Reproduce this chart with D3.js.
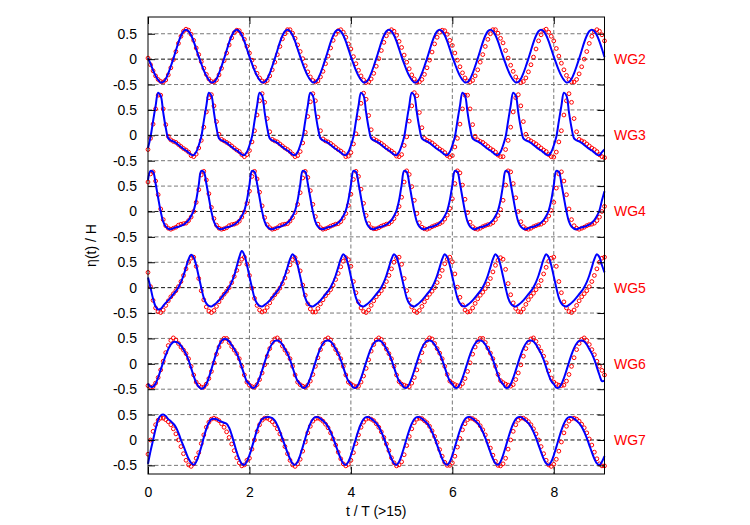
<!DOCTYPE html>
<html>
<head>
<meta charset="utf-8">
<script src="https://cdn.jsdelivr.net/npm/d3@7"></script>
<style>
  body { margin: 0; background: #fff; }
  text { font-family: "Liberation Sans", Arial, sans-serif; }
</style>
</head>
<body>
<svg id="chart" width="750" height="525"></svg>
<script>
// sampling step of both series, in t / T
const dt = 0.05;
const xTicks = [0, 2, 4, 6, 8];
const yTicks = [-0.5, 0, 0.5];
const gauges = ['WG2', 'WG3', 'WG4', 'WG5', 'WG6', 'WG7'];

// one row per wave period (20 samples), plus the value at t = 9
const wg2Model = [
  0.02, -0.09, -0.22, -0.33, -0.41, -0.46, -0.45, -0.39, -0.28, -0.14, 0.01, 0.17, 0.33, 0.46, 0.55, 0.58, 0.55, 0.47, 0.35, 0.20,
  0.05, -0.09, -0.22, -0.33, -0.41, -0.46, -0.45, -0.39, -0.28, -0.14, 0.01, 0.17, 0.33, 0.46, 0.55, 0.58, 0.55, 0.47, 0.35, 0.20,
  0.05, -0.09, -0.22, -0.33, -0.41, -0.46, -0.45, -0.39, -0.28, -0.14, 0.01, 0.17, 0.33, 0.46, 0.55, 0.58, 0.55, 0.47, 0.35, 0.20,
  0.05, -0.09, -0.22, -0.33, -0.41, -0.46, -0.45, -0.39, -0.28, -0.14, 0.01, 0.17, 0.33, 0.46, 0.55, 0.58, 0.55, 0.47, 0.35, 0.20,
  0.05, -0.09, -0.22, -0.33, -0.41, -0.46, -0.45, -0.39, -0.28, -0.14, 0.01, 0.17, 0.33, 0.46, 0.55, 0.58, 0.55, 0.47, 0.35, 0.20,
  0.05, -0.09, -0.22, -0.33, -0.41, -0.46, -0.45, -0.39, -0.28, -0.14, 0.01, 0.17, 0.33, 0.46, 0.55, 0.58, 0.55, 0.47, 0.35, 0.20,
  0.05, -0.09, -0.22, -0.33, -0.41, -0.46, -0.45, -0.39, -0.28, -0.14, 0.01, 0.17, 0.33, 0.46, 0.55, 0.58, 0.55, 0.47, 0.35, 0.20,
  0.05, -0.09, -0.22, -0.33, -0.41, -0.46, -0.45, -0.39, -0.28, -0.14, 0.01, 0.17, 0.33, 0.46, 0.55, 0.58, 0.55, 0.47, 0.35, 0.20,
  0.05, -0.09, -0.22, -0.33, -0.41, -0.46, -0.45, -0.39, -0.28, -0.14, 0.01, 0.17, 0.33, 0.46, 0.55, 0.58, 0.55, 0.47, 0.35, 0.20,
  0.04
];
const wg2Exp = [
  0.02, -0.11, -0.23, -0.33, -0.40, -0.44, -0.45, -0.41, -0.31, -0.17, -0.01, 0.15, 0.31, 0.45, 0.55, 0.59, 0.57, 0.49, 0.37, 0.22,
  0.09, -0.05, -0.18, -0.30, -0.39, -0.44, -0.45, -0.41, -0.31, -0.18, -0.03, 0.12, 0.28, 0.42, 0.52, 0.57, 0.56, 0.49, 0.39, 0.25,
  0.12, -0.02, -0.16, -0.28, -0.37, -0.43, -0.45, -0.42, -0.33, -0.21, -0.06, 0.09, 0.25, 0.40, 0.50, 0.58, 0.58, 0.51, 0.41, 0.28,
  0.15, 0.01, -0.13, -0.25, -0.35, -0.42, -0.45, -0.43, -0.35, -0.24, -0.09, 0.06, 0.22, 0.37, 0.49, 0.56, 0.58, 0.53, 0.43, 0.30,
  0.20, 0.05, -0.09, -0.22, -0.33, -0.41, -0.46, -0.45, -0.39, -0.28, -0.14, 0.01, 0.17, 0.33, 0.46, 0.55, 0.58, 0.55, 0.47, 0.35,
  0.23, 0.08, -0.06, -0.19, -0.31, -0.39, -0.45, -0.45, -0.40, -0.30, -0.17, -0.02, 0.14, 0.30, 0.43, 0.53, 0.57, 0.56, 0.49, 0.37,
  0.27, 0.12, -0.02, -0.15, -0.27, -0.37, -0.43, -0.45, -0.42, -0.33, -0.21, -0.06, 0.09, 0.25, 0.39, 0.50, 0.58, 0.58, 0.51, 0.41,
  0.32, 0.17, 0.02, -0.12, -0.24, -0.35, -0.42, -0.46, -0.44, -0.37, -0.25, -0.11, 0.04, 0.20, 0.36, 0.48, 0.56, 0.59, 0.53, 0.45,
  0.36, 0.21, 0.06, -0.08, -0.21, -0.32, -0.40, -0.45, -0.45, -0.40, -0.29, -0.15, 0.00, 0.15, 0.31, 0.45, 0.54, 0.58, 0.55, 0.48,
  0.36
];

const wg3Model = [
  -0.25, -0.03, 0.28, 0.58, 0.84, 0.78, 0.45, 0.15, -0.06, -0.10, -0.12, -0.15, -0.19, -0.23, -0.27, -0.30, -0.34, -0.38, -0.39, -0.33,
  -0.20, -0.03, 0.28, 0.58, 0.84, 0.78, 0.45, 0.15, -0.06, -0.10, -0.12, -0.15, -0.19, -0.23, -0.27, -0.30, -0.34, -0.38, -0.39, -0.33,
  -0.20, -0.03, 0.28, 0.58, 0.84, 0.78, 0.45, 0.15, -0.06, -0.10, -0.12, -0.15, -0.19, -0.23, -0.27, -0.30, -0.34, -0.38, -0.39, -0.33,
  -0.20, -0.03, 0.28, 0.58, 0.84, 0.78, 0.45, 0.15, -0.06, -0.10, -0.12, -0.15, -0.19, -0.23, -0.27, -0.30, -0.34, -0.38, -0.39, -0.33,
  -0.20, -0.03, 0.28, 0.58, 0.84, 0.78, 0.45, 0.15, -0.06, -0.10, -0.12, -0.15, -0.19, -0.23, -0.27, -0.30, -0.34, -0.38, -0.39, -0.33,
  -0.20, -0.03, 0.28, 0.58, 0.84, 0.78, 0.45, 0.15, -0.06, -0.10, -0.12, -0.15, -0.19, -0.23, -0.27, -0.30, -0.34, -0.38, -0.39, -0.33,
  -0.20, -0.03, 0.28, 0.58, 0.84, 0.78, 0.45, 0.15, -0.06, -0.10, -0.12, -0.15, -0.19, -0.23, -0.27, -0.30, -0.34, -0.38, -0.39, -0.33,
  -0.20, -0.03, 0.28, 0.58, 0.84, 0.78, 0.45, 0.15, -0.06, -0.10, -0.12, -0.15, -0.19, -0.23, -0.27, -0.30, -0.34, -0.38, -0.39, -0.33,
  -0.20, -0.03, 0.28, 0.58, 0.84, 0.78, 0.45, 0.15, -0.06, -0.10, -0.12, -0.15, -0.19, -0.23, -0.27, -0.30, -0.34, -0.38, -0.39, -0.33,
  -0.28
];
const wg3Exp = [
  -0.28, -0.06, 0.22, 0.52, 0.79, 0.79, 0.52, 0.21, -0.02, -0.09, -0.12, -0.14, -0.18, -0.22, -0.26, -0.29, -0.33, -0.40, -0.42, -0.37,
  -0.25, -0.10, 0.16, 0.46, 0.74, 0.80, 0.58, 0.27, 0.02, -0.08, -0.11, -0.14, -0.17, -0.21, -0.25, -0.29, -0.32, -0.38, -0.42, -0.38,
  -0.30, -0.13, 0.09, 0.40, 0.68, 0.82, 0.65, 0.33, 0.07, -0.08, -0.11, -0.13, -0.17, -0.21, -0.25, -0.28, -0.32, -0.37, -0.42, -0.40,
  -0.32, -0.15, 0.06, 0.37, 0.66, 0.82, 0.68, 0.36, 0.09, -0.07, -0.11, -0.13, -0.16, -0.20, -0.24, -0.28, -0.31, -0.35, -0.42, -0.41,
  -0.34, -0.17, 0.03, 0.34, 0.63, 0.83, 0.71, 0.39, 0.11, -0.07, -0.10, -0.13, -0.16, -0.20, -0.24, -0.28, -0.31, -0.35, -0.41, -0.42,
  -0.38, -0.20, -0.03, 0.28, 0.58, 0.84, 0.78, 0.45, 0.15, -0.06, -0.10, -0.12, -0.15, -0.19, -0.23, -0.27, -0.30, -0.34, -0.40, -0.43,
  -0.40, -0.23, -0.06, 0.22, 0.52, 0.79, 0.79, 0.52, 0.21, -0.02, -0.09, -0.12, -0.14, -0.18, -0.22, -0.26, -0.29, -0.33, -0.39, -0.42,
  -0.42, -0.28, -0.10, 0.16, 0.46, 0.74, 0.80, 0.58, 0.27, 0.02, -0.08, -0.11, -0.14, -0.17, -0.21, -0.25, -0.29, -0.32, -0.38, -0.42,
  -0.43, -0.33, -0.13, 0.09, 0.40, 0.68, 0.82, 0.65, 0.33, 0.07, -0.08, -0.11, -0.13, -0.17, -0.21, -0.25, -0.28, -0.32, -0.38, -0.42,
  -0.44
];

const wg4Model = [
  0.62, 0.80, 0.78, 0.55, 0.27, 0.00, -0.20, -0.30, -0.34, -0.35, -0.33, -0.31, -0.30, -0.28, -0.26, -0.22, -0.17, -0.09, 0.02, 0.22,
  0.52, 0.80, 0.78, 0.55, 0.27, 0.00, -0.20, -0.30, -0.34, -0.35, -0.33, -0.31, -0.30, -0.28, -0.26, -0.22, -0.17, -0.09, 0.02, 0.22,
  0.52, 0.80, 0.78, 0.55, 0.27, 0.00, -0.20, -0.30, -0.34, -0.35, -0.33, -0.31, -0.30, -0.28, -0.26, -0.22, -0.17, -0.09, 0.02, 0.22,
  0.52, 0.80, 0.78, 0.55, 0.27, 0.00, -0.20, -0.30, -0.34, -0.35, -0.33, -0.31, -0.30, -0.28, -0.26, -0.22, -0.17, -0.09, 0.02, 0.22,
  0.52, 0.80, 0.78, 0.55, 0.27, 0.00, -0.20, -0.30, -0.34, -0.35, -0.33, -0.31, -0.30, -0.28, -0.26, -0.22, -0.17, -0.09, 0.02, 0.22,
  0.52, 0.80, 0.78, 0.55, 0.27, 0.00, -0.20, -0.30, -0.34, -0.35, -0.33, -0.31, -0.30, -0.28, -0.26, -0.22, -0.17, -0.09, 0.02, 0.22,
  0.52, 0.80, 0.78, 0.55, 0.27, 0.00, -0.20, -0.30, -0.34, -0.35, -0.33, -0.31, -0.30, -0.28, -0.26, -0.22, -0.17, -0.09, 0.02, 0.22,
  0.52, 0.80, 0.78, 0.55, 0.27, 0.00, -0.20, -0.30, -0.34, -0.35, -0.33, -0.31, -0.30, -0.28, -0.26, -0.22, -0.17, -0.09, 0.02, 0.22,
  0.52, 0.80, 0.78, 0.55, 0.27, 0.00, -0.20, -0.30, -0.34, -0.35, -0.33, -0.31, -0.30, -0.28, -0.26, -0.22, -0.17, -0.09, 0.02, 0.22,
  0.40
];
const wg4Exp = [
  0.58, 0.74, 0.78, 0.60, 0.33, 0.05, -0.16, -0.28, -0.33, -0.35, -0.33, -0.31, -0.27, -0.25, -0.24, -0.23, -0.18, -0.11, 0.00, 0.18,
  0.43, 0.72, 0.79, 0.62, 0.35, 0.08, -0.14, -0.27, -0.33, -0.35, -0.34, -0.32, -0.28, -0.26, -0.25, -0.23, -0.19, -0.11, -0.01, 0.16,
  0.40, 0.69, 0.79, 0.64, 0.38, 0.11, -0.12, -0.26, -0.32, -0.35, -0.34, -0.32, -0.28, -0.26, -0.25, -0.24, -0.19, -0.12, -0.02, 0.14,
  0.37, 0.66, 0.79, 0.67, 0.41, 0.14, -0.10, -0.25, -0.32, -0.35, -0.34, -0.32, -0.29, -0.27, -0.25, -0.24, -0.20, -0.13, -0.04, 0.12,
  0.34, 0.63, 0.79, 0.69, 0.44, 0.16, -0.08, -0.24, -0.32, -0.34, -0.34, -0.32, -0.29, -0.27, -0.25, -0.24, -0.20, -0.14, -0.05, 0.10,
  0.28, 0.58, 0.80, 0.73, 0.49, 0.22, -0.04, -0.22, -0.31, -0.34, -0.35, -0.33, -0.30, -0.28, -0.26, -0.24, -0.21, -0.15, -0.07, 0.06,
  0.25, 0.55, 0.80, 0.76, 0.52, 0.24, -0.02, -0.21, -0.30, -0.34, -0.35, -0.33, -0.30, -0.28, -0.26, -0.25, -0.22, -0.16, -0.08, 0.04,
  0.22, 0.52, 0.80, 0.78, 0.55, 0.27, 0.00, -0.20, -0.30, -0.34, -0.35, -0.33, -0.30, -0.28, -0.26, -0.25, -0.22, -0.17, -0.09, 0.02,
  0.18, 0.46, 0.74, 0.78, 0.60, 0.33, 0.05, -0.16, -0.28, -0.33, -0.35, -0.33, -0.31, -0.28, -0.26, -0.25, -0.23, -0.18, -0.11, 0.00,
  0.10
];

const wg5Model = [
  0.20, 0.00, -0.22, -0.37, -0.43, -0.42, -0.36, -0.30, -0.25, -0.19, -0.13, -0.07, 0.01, 0.11, 0.24, 0.40, 0.56, 0.65, 0.60, 0.44,
  0.22, 0.00, -0.20, -0.31, -0.36, -0.37, -0.34, -0.30, -0.25, -0.19, -0.13, -0.07, 0.01, 0.11, 0.24, 0.42, 0.60, 0.72, 0.64, 0.45,
  0.22, 0.00, -0.20, -0.31, -0.36, -0.37, -0.34, -0.30, -0.25, -0.19, -0.13, -0.07, 0.01, 0.11, 0.24, 0.40, 0.56, 0.66, 0.60, 0.44,
  0.22, 0.00, -0.20, -0.31, -0.36, -0.37, -0.34, -0.30, -0.25, -0.19, -0.13, -0.07, 0.01, 0.11, 0.24, 0.40, 0.56, 0.66, 0.60, 0.44,
  0.22, 0.00, -0.20, -0.31, -0.36, -0.37, -0.34, -0.30, -0.25, -0.19, -0.13, -0.07, 0.01, 0.11, 0.24, 0.40, 0.56, 0.66, 0.60, 0.44,
  0.22, 0.00, -0.20, -0.31, -0.36, -0.37, -0.34, -0.30, -0.25, -0.19, -0.13, -0.07, 0.01, 0.11, 0.24, 0.40, 0.56, 0.66, 0.60, 0.44,
  0.22, 0.00, -0.20, -0.31, -0.36, -0.37, -0.34, -0.30, -0.25, -0.19, -0.13, -0.07, 0.01, 0.11, 0.24, 0.40, 0.56, 0.66, 0.60, 0.44,
  0.22, 0.00, -0.20, -0.31, -0.36, -0.37, -0.34, -0.30, -0.25, -0.19, -0.13, -0.07, 0.01, 0.11, 0.24, 0.40, 0.56, 0.66, 0.60, 0.44,
  0.22, 0.00, -0.20, -0.31, -0.36, -0.37, -0.34, -0.30, -0.25, -0.19, -0.13, -0.07, 0.01, 0.11, 0.24, 0.40, 0.56, 0.66, 0.60, 0.44,
  0.30
];
const wg5Exp = [
  0.30, 0.02, -0.25, -0.40, -0.47, -0.49, -0.44, -0.35, -0.26, -0.18, -0.12, -0.06, 0.02, 0.12, 0.24, 0.37, 0.50, 0.58, 0.60, 0.42,
  0.18, -0.06, -0.24, -0.38, -0.46, -0.49, -0.45, -0.37, -0.28, -0.20, -0.13, -0.07, 0.00, 0.10, 0.22, 0.34, 0.47, 0.56, 0.60, 0.46,
  0.24, -0.01, -0.21, -0.35, -0.44, -0.48, -0.46, -0.39, -0.30, -0.21, -0.14, -0.08, -0.01, 0.08, 0.19, 0.32, 0.45, 0.55, 0.59, 0.49,
  0.33, 0.05, -0.15, -0.32, -0.42, -0.48, -0.48, -0.41, -0.32, -0.24, -0.16, -0.10, -0.04, 0.05, 0.16, 0.28, 0.41, 0.52, 0.59, 0.55,
  0.42, 0.12, -0.10, -0.28, -0.40, -0.47, -0.49, -0.44, -0.35, -0.26, -0.18, -0.12, -0.06, 0.02, 0.12, 0.24, 0.37, 0.50, 0.58, 0.60,
  0.46, 0.18, -0.06, -0.24, -0.38, -0.46, -0.49, -0.45, -0.37, -0.28, -0.20, -0.13, -0.07, 0.00, 0.10, 0.22, 0.34, 0.47, 0.56, 0.60,
  0.51, 0.27, 0.01, -0.19, -0.34, -0.44, -0.48, -0.47, -0.40, -0.31, -0.22, -0.15, -0.09, -0.02, 0.07, 0.18, 0.31, 0.44, 0.54, 0.59,
  0.56, 0.36, 0.08, -0.14, -0.30, -0.41, -0.47, -0.48, -0.42, -0.33, -0.24, -0.17, -0.11, -0.04, 0.04, 0.14, 0.27, 0.40, 0.52, 0.58,
  0.60, 0.42, 0.12, -0.10, -0.28, -0.40, -0.47, -0.49, -0.44, -0.35, -0.26, -0.18, -0.12, -0.06, 0.02, 0.12, 0.24, 0.37, 0.50, 0.58,
  0.60
];

const wg6Model = [
  -0.39, -0.45, -0.45, -0.39, -0.27, -0.12, 0.03, 0.17, 0.29, 0.38, 0.43, 0.43, 0.41, 0.36, 0.28, 0.19, 0.07, -0.08, -0.24, -0.37,
  -0.45, -0.49, -0.47, -0.40, -0.27, -0.11, 0.06, 0.22, 0.36, 0.45, 0.49, 0.48, 0.44, 0.37, 0.29, 0.20, 0.08, -0.07, -0.22, -0.35,
  -0.40, -0.47, -0.47, -0.40, -0.28, -0.13, 0.03, 0.18, 0.31, 0.40, 0.45, 0.46, 0.44, 0.38, 0.29, 0.20, 0.08, -0.07, -0.22, -0.34,
  -0.40, -0.47, -0.47, -0.40, -0.28, -0.13, 0.03, 0.18, 0.31, 0.40, 0.45, 0.46, 0.44, 0.38, 0.29, 0.20, 0.08, -0.07, -0.22, -0.34,
  -0.40, -0.47, -0.47, -0.40, -0.28, -0.13, 0.03, 0.18, 0.31, 0.40, 0.45, 0.46, 0.44, 0.38, 0.29, 0.20, 0.08, -0.07, -0.22, -0.34,
  -0.40, -0.47, -0.47, -0.40, -0.28, -0.13, 0.03, 0.18, 0.31, 0.40, 0.45, 0.46, 0.44, 0.38, 0.29, 0.20, 0.08, -0.07, -0.22, -0.34,
  -0.40, -0.47, -0.47, -0.40, -0.28, -0.13, 0.03, 0.18, 0.31, 0.40, 0.45, 0.46, 0.44, 0.38, 0.29, 0.20, 0.08, -0.07, -0.22, -0.34,
  -0.40, -0.47, -0.47, -0.40, -0.28, -0.13, 0.03, 0.18, 0.31, 0.40, 0.45, 0.46, 0.44, 0.38, 0.29, 0.20, 0.08, -0.07, -0.22, -0.34,
  -0.40, -0.47, -0.47, -0.40, -0.28, -0.13, 0.03, 0.18, 0.31, 0.40, 0.45, 0.46, 0.44, 0.38, 0.29, 0.20, 0.08, -0.07, -0.22, -0.34,
  -0.33
];
const wg6Exp = [
  -0.43, -0.46, -0.45, -0.38, -0.27, -0.12, 0.05, 0.22, 0.36, 0.46, 0.51, 0.47, 0.40, 0.33, 0.27, 0.20, 0.10, -0.05, -0.22, -0.36,
  -0.42, -0.46, -0.46, -0.40, -0.29, -0.15, 0.02, 0.19, 0.33, 0.44, 0.50, 0.50, 0.42, 0.34, 0.27, 0.20, 0.10, -0.05, -0.22, -0.36,
  -0.42, -0.45, -0.46, -0.41, -0.31, -0.18, -0.02, 0.15, 0.30, 0.42, 0.49, 0.51, 0.45, 0.35, 0.27, 0.20, 0.10, -0.05, -0.22, -0.36,
  -0.41, -0.44, -0.46, -0.42, -0.34, -0.21, -0.05, 0.12, 0.28, 0.40, 0.48, 0.51, 0.47, 0.37, 0.28, 0.20, 0.10, -0.05, -0.22, -0.36,
  -0.40, -0.43, -0.45, -0.44, -0.36, -0.24, -0.09, 0.08, 0.25, 0.38, 0.47, 0.51, 0.48, 0.39, 0.29, 0.20, 0.10, -0.05, -0.22, -0.35,
  -0.40, -0.42, -0.44, -0.45, -0.38, -0.27, -0.12, 0.05, 0.22, 0.36, 0.46, 0.51, 0.49, 0.40, 0.30, 0.21, 0.10, -0.05, -0.21, -0.34,
  -0.38, -0.41, -0.43, -0.44, -0.39, -0.29, -0.15, 0.02, 0.19, 0.33, 0.44, 0.50, 0.50, 0.42, 0.31, 0.21, 0.10, -0.05, -0.21, -0.33,
  -0.37, -0.40, -0.42, -0.44, -0.41, -0.31, -0.18, -0.02, 0.15, 0.30, 0.42, 0.49, 0.51, 0.44, 0.34, 0.25, 0.15, 0.02, -0.14, -0.28,
  -0.36, -0.40, -0.42, -0.43, -0.42, -0.34, -0.21, -0.05, 0.12, 0.28, 0.40, 0.48, 0.51, 0.46, 0.38, 0.28, 0.18, 0.05, -0.05, -0.13,
  -0.22
];

const wg7Model = [
  -0.47, -0.22, 0.00, 0.22, 0.40, 0.48, 0.50, 0.47, 0.41, 0.37, 0.32, 0.25, 0.14, 0.00, -0.12, -0.25, -0.37, -0.45, -0.49, -0.43,
  -0.30, -0.14, 0.05, 0.22, 0.34, 0.41, 0.42, 0.41, 0.38, 0.36, 0.34, 0.32, 0.24, 0.10, -0.07, -0.24, -0.38, -0.47, -0.49, -0.42,
  -0.30, -0.14, 0.03, 0.20, 0.33, 0.41, 0.44, 0.45, 0.45, 0.43, 0.38, 0.29, 0.17, 0.03, -0.11, -0.25, -0.37, -0.46, -0.49, -0.43,
  -0.30, -0.14, 0.03, 0.19, 0.32, 0.41, 0.45, 0.45, 0.42, 0.38, 0.33, 0.26, 0.16, 0.04, -0.10, -0.24, -0.37, -0.46, -0.49, -0.43,
  -0.30, -0.14, 0.03, 0.19, 0.32, 0.41, 0.45, 0.45, 0.42, 0.38, 0.33, 0.26, 0.16, 0.04, -0.10, -0.24, -0.37, -0.46, -0.49, -0.43,
  -0.30, -0.14, 0.03, 0.19, 0.32, 0.41, 0.45, 0.45, 0.42, 0.38, 0.33, 0.26, 0.16, 0.04, -0.10, -0.24, -0.37, -0.46, -0.49, -0.43,
  -0.30, -0.14, 0.03, 0.19, 0.32, 0.41, 0.45, 0.45, 0.42, 0.38, 0.33, 0.26, 0.16, 0.04, -0.10, -0.24, -0.37, -0.46, -0.49, -0.43,
  -0.30, -0.14, 0.03, 0.19, 0.32, 0.41, 0.45, 0.45, 0.42, 0.38, 0.33, 0.26, 0.16, 0.04, -0.10, -0.24, -0.37, -0.46, -0.49, -0.43,
  -0.30, -0.14, 0.03, 0.19, 0.32, 0.41, 0.45, 0.45, 0.42, 0.38, 0.33, 0.26, 0.16, 0.04, -0.10, -0.24, -0.37, -0.46, -0.49, -0.43,
  -0.32
];
const wg7Exp = [
  -0.28, 0.00, 0.17, 0.30, 0.39, 0.43, 0.43, 0.40, 0.36, 0.30, 0.22, 0.12, 0.00, -0.13, -0.27, -0.40, -0.49, -0.52, -0.47, -0.36,
  -0.25, -0.07, 0.10, 0.25, 0.35, 0.41, 0.43, 0.41, 0.38, 0.32, 0.25, 0.16, 0.05, -0.08, -0.21, -0.35, -0.45, -0.51, -0.49, -0.40,
  -0.36, -0.18, 0.00, 0.17, 0.30, 0.39, 0.43, 0.43, 0.40, 0.36, 0.30, 0.22, 0.12, 0.00, -0.13, -0.27, -0.40, -0.49, -0.52, -0.47,
  -0.38, -0.22, -0.04, 0.14, 0.27, 0.37, 0.42, 0.43, 0.41, 0.37, 0.31, 0.24, 0.14, 0.02, -0.10, -0.24, -0.37, -0.47, -0.51, -0.48,
  -0.40, -0.25, -0.07, 0.10, 0.25, 0.35, 0.41, 0.43, 0.41, 0.38, 0.32, 0.25, 0.16, 0.05, -0.08, -0.21, -0.35, -0.45, -0.51, -0.49,
  -0.43, -0.29, -0.11, 0.07, 0.22, 0.34, 0.41, 0.43, 0.42, 0.38, 0.34, 0.27, 0.18, 0.07, -0.05, -0.19, -0.32, -0.44, -0.50, -0.50,
  -0.45, -0.32, -0.14, 0.03, 0.20, 0.32, 0.40, 0.43, 0.42, 0.39, 0.35, 0.28, 0.20, 0.10, -0.03, -0.16, -0.30, -0.42, -0.50, -0.51,
  -0.47, -0.36, -0.18, 0.00, 0.17, 0.30, 0.39, 0.43, 0.43, 0.40, 0.36, 0.30, 0.22, 0.12, 0.00, -0.13, -0.27, -0.40, -0.49, -0.52,
  -0.48, -0.38, -0.22, -0.04, 0.14, 0.27, 0.37, 0.42, 0.43, 0.41, 0.37, 0.31, 0.24, 0.14, 0.02, -0.10, -0.24, -0.37, -0.47, -0.51,
  -0.51
];

const modelSeries = [wg2Model, wg3Model, wg4Model, wg5Model, wg6Model, wg7Model];
const expSeries = [wg2Exp, wg3Exp, wg4Exp, wg5Exp, wg6Exp, wg7Exp];

const svg = d3.select('#chart');
const plot = { left: 148, right: 604.5, top: 17, bottom: 474 };
const panelH = (plot.bottom - plot.top) / gauges.length;
const fontFam = '"Liberation Sans", Arial, sans-serif';

const x = d3.scaleLinear().domain([0, 9]).range([plot.left, plot.right]);
// every gauge gets its own band, all with the same value range
const panelY = k => d3.scaleLinear()
  .domain([-0.67, 0.83])
  .range([plot.top + (k + 1) * panelH, plot.top + k * panelH]);

const grid = svg.append('g');

// vertical dashed grid
grid.selectAll('line.vx')
  .data(xTicks.filter(d => d > 0))
  .join('line')
  .attr('x1', d => x(d)).attr('x2', d => x(d))
  .attr('y1', plot.top).attr('y2', plot.bottom)
  .attr('stroke', '#777').attr('stroke-width', 1)
  .attr('stroke-dasharray', '4,2.5');

const marks = svg.append('g');
const ticksG = svg.append('g');

gauges.forEach((name, k) => {
  const y = panelY(k);

  // horizontal grid: zero line darker
  grid.append('g').selectAll('line')
    .data(yTicks)
    .join('line')
    .attr('x1', plot.left).attr('x2', plot.right)
    .attr('y1', d => y(d)).attr('y2', d => y(d))
    .attr('stroke', d => d === 0 ? '#111' : '#777')
    .attr('stroke-width', 1)
    .attr('stroke-dasharray', '4,2.5');

  // measured: red open circles
  marks.append('g')
    .selectAll('circle')
    .data(expSeries[k])
    .join('circle')
    .attr('cx', (d, i) => x(i * dt))
    .attr('cy', d => y(d))
    .attr('r', 1.9)
    .attr('fill', 'none')
    .attr('stroke', '#ff0000')
    .attr('stroke-width', 1);

  // model: blue line
  marks.append('path')
    .datum(modelSeries[k])
    .attr('fill', 'none')
    .attr('stroke', '#0000ff')
    .attr('stroke-width', 2)
    .attr('d', d3.line()
      .x((d, i) => x(i * dt))
      .y(d => y(d))
      .curve(d3.curveCatmullRom));

  // left ticks with labels, right mirror ticks
  ticksG.append('g')
    .attr('transform', `translate(${plot.left},0)`)
    .call(d3.axisLeft(y).tickValues(yTicks)
      .tickSizeInner(-7).tickSizeOuter(0).tickPadding(11)
      .tickFormat(d => d === 0 ? '0' : String(d)))
    .call(a => a.select('.domain').remove())
    .call(a => a.selectAll('text')
      .attr('font-family', fontFam)
      .attr('font-size', '14px').attr('fill', '#000'));

  ticksG.append('g')
    .attr('transform', `translate(${plot.right},0)`)
    .call(d3.axisRight(y).tickValues(yTicks)
      .tickSizeInner(-7).tickSizeOuter(0).tickFormat(''))
    .call(a => a.select('.domain').remove());

  // gauge label
  svg.append('text')
    .attr('x', 614)
    .attr('y', y(0) + 5)
    .attr('font-size', '14px')
    .attr('fill', '#ff0000')
    .text(name);
});

// x axis bottom + mirror on top
ticksG.append('g')
  .attr('transform', `translate(0,${plot.bottom})`)
  .call(d3.axisBottom(x).tickValues(xTicks)
    .tickSizeInner(-7).tickSizeOuter(0).tickPadding(13)
    .tickFormat(d => String(d)))
  .call(a => a.select('.domain').remove())
  .call(a => a.selectAll('text')
    .attr('font-family', fontFam)
    .attr('font-size', '14px').attr('fill', '#000'));

ticksG.append('g')
  .attr('transform', `translate(0,${plot.top})`)
  .call(d3.axisTop(x).tickValues(xTicks)
    .tickSizeInner(-7).tickSizeOuter(0).tickFormat(''))
  .call(a => a.select('.domain').remove());

// frame
svg.append('rect')
  .attr('x', plot.left).attr('y', plot.top)
  .attr('width', plot.right - plot.left).attr('height', plot.bottom - plot.top)
  .attr('fill', 'none').attr('stroke', '#000').attr('stroke-width', 1);

// axis titles
svg.append('text')
  .attr('x', (plot.left + plot.right) / 2)
  .attr('y', 516)
  .attr('text-anchor', 'middle')
  .attr('font-size', '14px')
  .text('t / T (>15)');

svg.append('text')
  .attr('transform', `translate(96,${(plot.top + plot.bottom) / 2}) rotate(-90)`)
  .attr('text-anchor', 'middle')
  .attr('font-size', '14px')
  .text('η(t) / H');
</script>
</body>
</html>
